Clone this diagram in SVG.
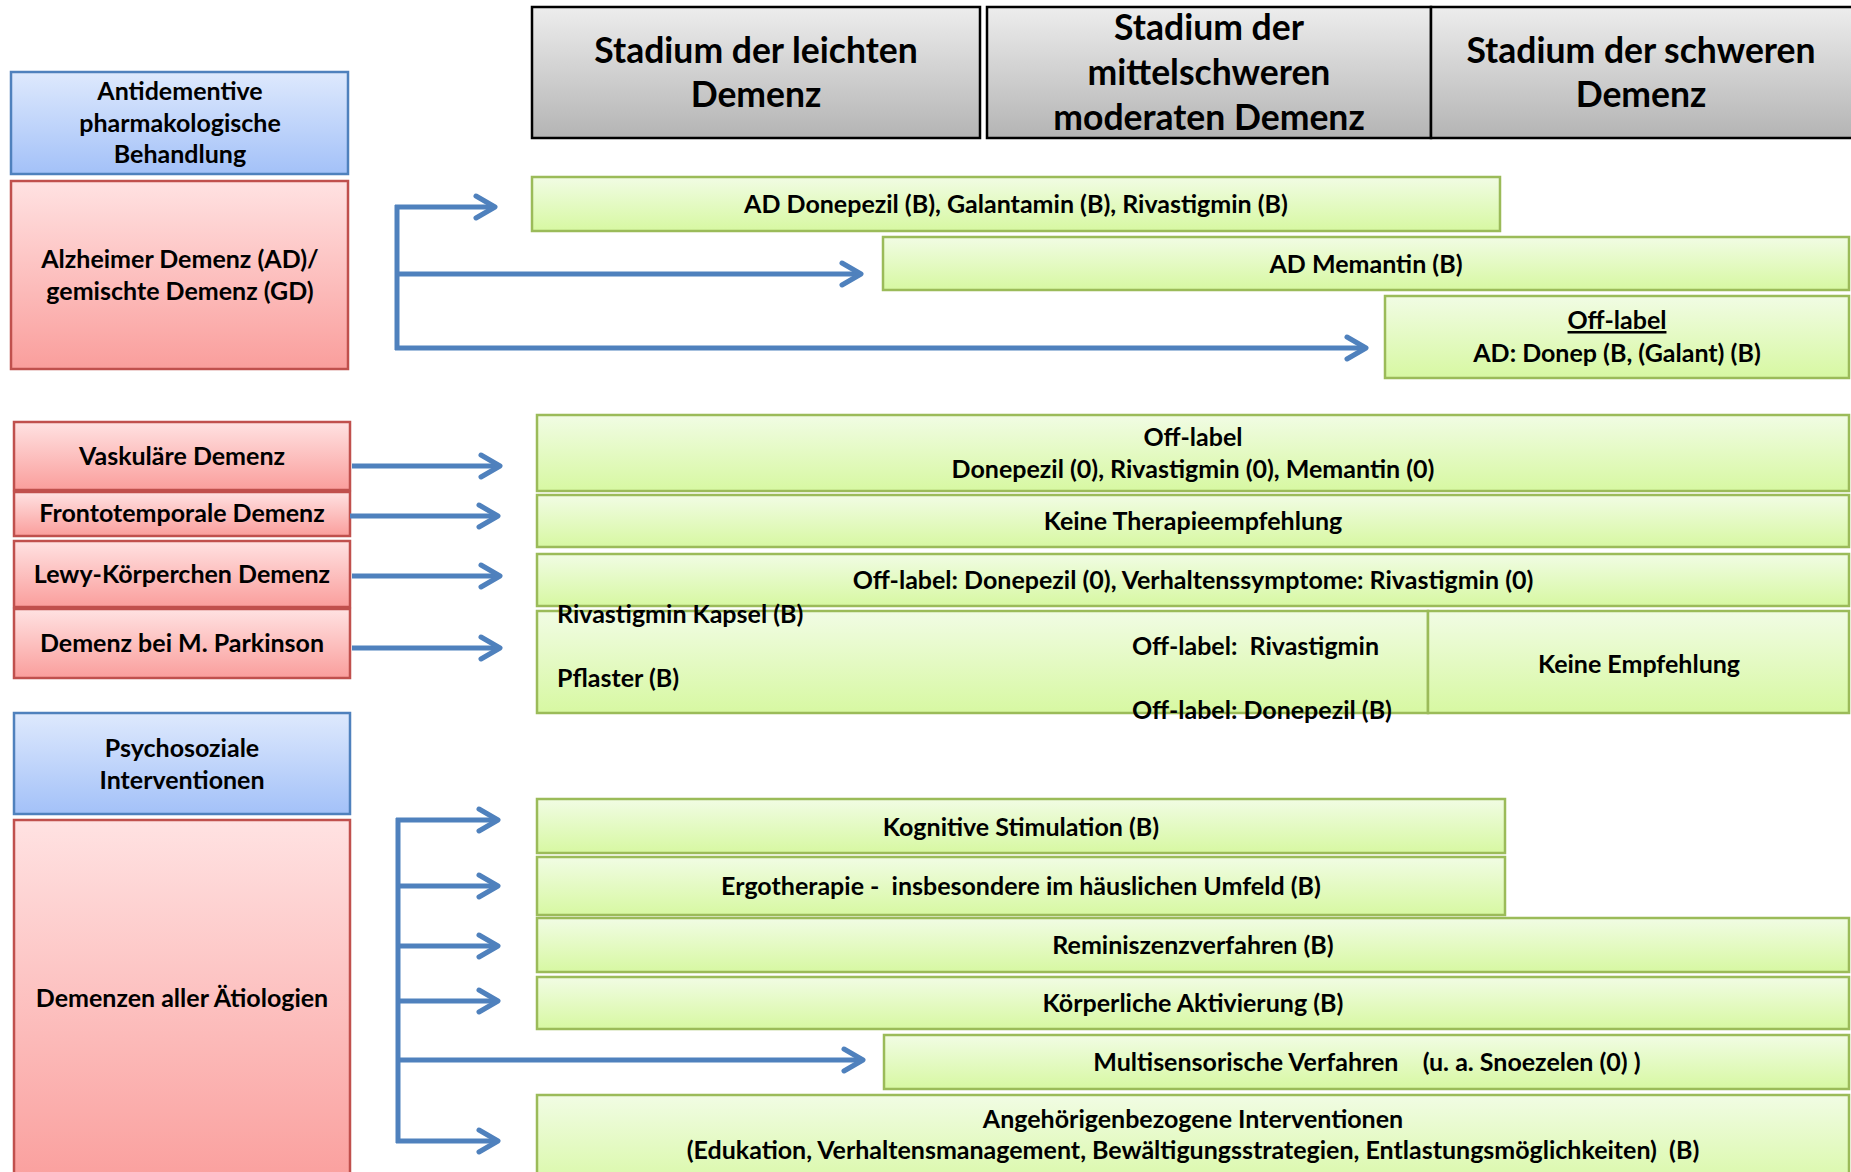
<svg xmlns="http://www.w3.org/2000/svg" width="1851" height="1172" viewBox="0 0 1851 1172">
<defs>
<linearGradient id="gGrey" x1="0" y1="0" x2="0" y2="1"><stop offset="0" stop-color="#EDEDED"/><stop offset="1" stop-color="#B4B4B4"/></linearGradient>
<linearGradient id="gBlue" x1="0" y1="0" x2="0" y2="1"><stop offset="0" stop-color="#DEE9FD"/><stop offset="1" stop-color="#A3C1F8"/></linearGradient>
<linearGradient id="gRed" x1="0" y1="0" x2="0" y2="1"><stop offset="0" stop-color="#FFE2E2"/><stop offset="1" stop-color="#FA9E9C"/></linearGradient>
<linearGradient id="gGreen" x1="0" y1="0" x2="0" y2="1"><stop offset="0" stop-color="#F1FCE4"/><stop offset="1" stop-color="#D7F8A2"/></linearGradient>
<marker id="arr" markerUnits="userSpaceOnUse" markerWidth="30" markerHeight="30" viewBox="-25 -15 30 30" refX="0" refY="0" orient="auto">
<path d="M-19,-11 L0,0 L-19,11" fill="none" stroke="#4F81BD" stroke-width="5" stroke-linecap="round" stroke-linejoin="round"/>
</marker>
<style>
text{font-family:"Lato","Open Sans","Liberation Sans",sans-serif;font-weight:bold;fill:#000;white-space:pre;font-size:25px;text-anchor:middle}
.hd{font-size:35.5px}
.l{text-anchor:start}
.grey{fill:url(#gGrey);stroke:#000;stroke-width:2.5}
.blue{fill:url(#gBlue);stroke:#4F81BD;stroke-width:2.5}
.red{fill:url(#gRed);stroke:#C0504D;stroke-width:2.5}
.green{fill:url(#gGreen);stroke:#9BBB59;stroke-width:2.5}
.con{fill:none;stroke:#4F81BD;stroke-width:5}
.ar{marker-end:url(#arr)}
</style>
</defs>

<g id="header-leicht"><rect class="grey" x="532" y="7" width="448" height="131"/><text x="756" y="63" class="hd">Stadium der leichten</text><text x="756" y="107" class="hd">Demenz</text></g>
<g id="header-mittel"><rect class="grey" x="987" y="7" width="444" height="131"/><text x="1209" y="40" class="hd">Stadium der</text><text x="1209" y="85" class="hd">mittelschweren</text><text x="1209" y="130" class="hd">moderaten Demenz</text></g>
<g id="header-schwer"><rect class="grey" x="1431" y="7" width="440" height="131"/><text x="1641" y="63" class="hd">Stadium der schweren</text><text x="1641" y="107" class="hd">Demenz</text></g>

<g id="antidementive"><rect class="blue" x="11" y="72" width="337" height="102"/><text x="180" y="100">Antidementive</text><text x="180" y="132">pharmakologische</text><text x="180" y="163">Behandlung</text></g>
<g id="alzheimer"><rect class="red" x="11" y="181" width="337" height="188"/><text x="180" y="268">Alzheimer Demenz (AD)/</text><text x="180" y="300">gemischte Demenz (GD)</text></g>
<g id="vaskulaer"><rect class="red" x="14" y="422" width="336" height="68"/><text x="182" y="465">Vaskuläre Demenz</text></g>
<g id="frontotemporal"><rect class="red" x="14" y="492" width="336" height="44"/><text x="182" y="522">Frontotemporale Demenz</text></g>
<g id="lewy"><rect class="red" x="14" y="541" width="336" height="66"/><text x="182" y="583">Lewy-Körperchen Demenz</text></g>
<g id="parkinson"><rect class="red" x="14" y="609" width="336" height="69"/><text x="182" y="652">Demenz bei M. Parkinson</text></g>
<g id="psychosozial"><rect class="blue" x="14" y="713" width="336" height="101"/><text x="182" y="757">Psychosoziale</text><text x="182" y="789">Interventionen</text></g>
<g id="alle-aetiologien"><rect class="red" x="14" y="820" width="336" height="370"/><text x="182" y="1007">Demenzen aller Ätiologien</text></g>

<g id="ad-donepezil"><rect class="green" x="532" y="177" width="968" height="54"/><text x="1016" y="213">AD Donepezil (B), Galantamin (B), Rivastigmin (B)</text></g>
<g id="ad-memantin"><rect class="green" x="883" y="237" width="966" height="53"/><text x="1366" y="273">AD Memantin (B)</text></g>
<g id="ad-offlabel"><rect class="green" x="1385" y="296" width="464" height="82"/><text x="1617" y="329" text-decoration="underline">Off-label</text><text x="1617" y="362">AD: Donep (B, (Galant) (B)</text></g>
<g id="vask-offlabel"><rect class="green" x="537" y="415" width="1312" height="76"/><text x="1193" y="446">Off-label</text><text x="1193" y="478">Donepezil (0), Rivastigmin (0), Memantin (0)</text></g>
<g id="ftd-keine"><rect class="green" x="537" y="495" width="1312" height="52"/><text x="1193" y="530">Keine Therapieempfehlung</text></g>
<g id="lewy-offlabel"><rect class="green" x="537" y="554" width="1312" height="52"/><text x="1193" y="589">Off-label: Donepezil (0), Verhaltenssymptome: Rivastigmin (0)</text></g>
<g id="pdd-therapie"><rect class="green" x="537" y="611" width="891" height="102"/><text class="l" x="557" y="623">Rivastigmin Kapsel (B)</text><text class="l" x="557" y="687">Pflaster (B)</text><text class="l" x="1132" y="655">Off-label:  Rivastigmin</text><text class="l" x="1132" y="719">Off-label: Donepezil (B)</text></g>
<g id="pdd-keine"><rect class="green" x="1428" y="611" width="421" height="102"/><text x="1639" y="673">Keine Empfehlung</text></g>
<g id="kognitiv"><rect class="green" x="537" y="799" width="968" height="54"/><text x="1021" y="836">Kognitive Stimulation (B)</text></g>
<g id="ergo"><rect class="green" x="537" y="857" width="968" height="58"/><text x="1021" y="895">Ergotherapie -  insbesondere im häuslichen Umfeld (B)</text></g>
<g id="reminiszenz"><rect class="green" x="537" y="918" width="1312" height="54"/><text x="1193" y="954">Reminiszenzverfahren (B)</text></g>
<g id="koerperlich"><rect class="green" x="537" y="977" width="1312" height="52"/><text x="1193" y="1012">Körperliche Aktivierung (B)</text></g>
<g id="multisensorisch"><rect class="green" x="884" y="1035" width="965" height="54"/><text x="1367" y="1071">Multisensorische Verfahren    (u. a. Snoezelen (0) )</text></g>
<g id="angehoerige"><rect class="green" x="537" y="1095" width="1312" height="100"/><text x="1193" y="1128">Angehörigenbezogene Interventionen</text><text x="1193" y="1159">(Edukation, Verhaltensmanagement, Bewältigungsstrategien, Entlastungsmöglichkeiten)  (B)</text></g>

<g id="connectors">
<path class="con" d="M397,205 V350"/>
<path class="con ar" d="M395,207 H495"/>
<path class="con ar" d="M397,274 H861"/>
<path class="con ar" d="M395,348 H1366"/>
<path class="con ar" d="M352,466 H500"/>
<path class="con ar" d="M350,516 H498"/>
<path class="con ar" d="M352,576 H500"/>
<path class="con ar" d="M352,648 H500"/>
<path class="con" d="M398,818 V1143"/>
<path class="con ar" d="M396,820 H498"/>
<path class="con ar" d="M398,886 H498"/>
<path class="con ar" d="M398,946 H498"/>
<path class="con ar" d="M398,1001 H498"/>
<path class="con ar" d="M398,1060 H863"/>
<path class="con ar" d="M396,1141 H498"/>
</g>
</svg>
